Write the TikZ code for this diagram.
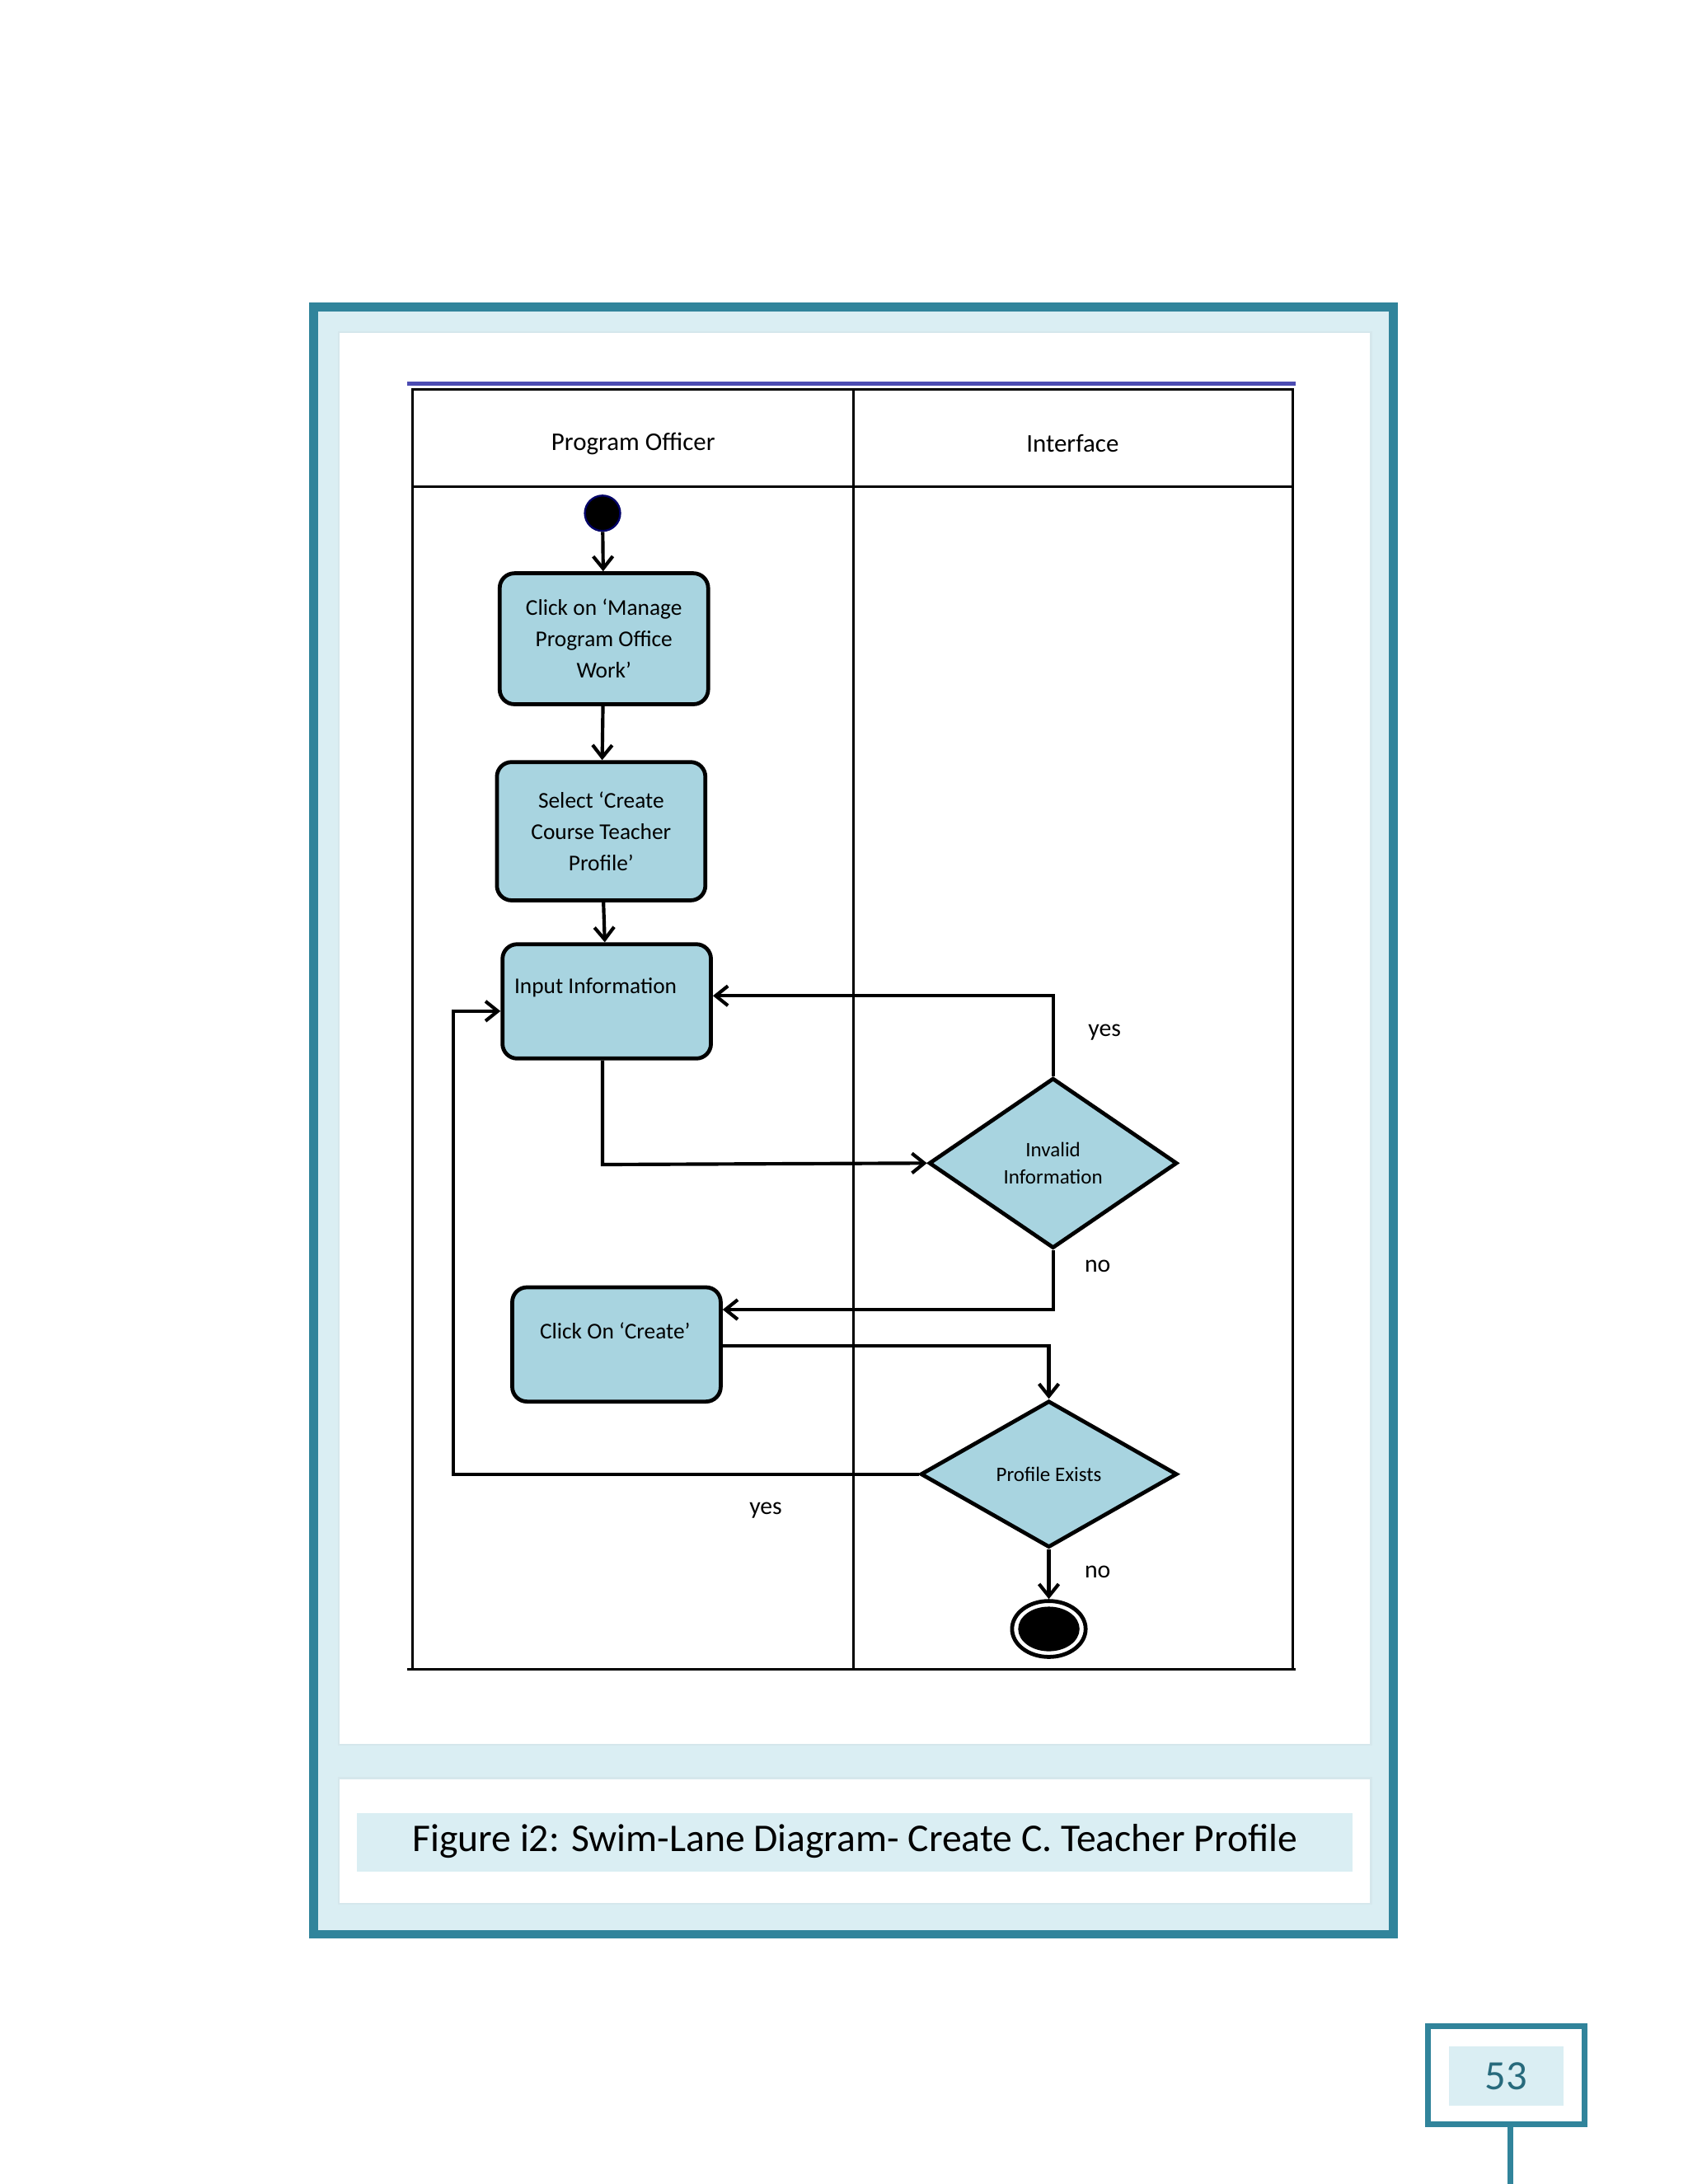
\documentclass[tikz,border=0pt]{standalone}
\usepackage{fontspec}
\setmainfont{Carlito}
\usetikzlibrary{shapes.geometric,arrows.meta}
\definecolor{teal1}{HTML}{31849B}
\definecolor{lb}{HTML}{DAEEF3}
\definecolor{boxf}{HTML}{A8D4E0}
\begin{document}
\begin{tikzpicture}[x=0.01cm,y=-0.01cm,
  act/.style={draw=black,line width=0.8pt,rounded corners=3pt,fill=boxf,align=center,font=\fontsize{4.6}{6.4}\selectfont},
  dec/.style={draw=black,line width=0.8pt,fill=boxf,diamond,align=center,font=\fontsize{4.2}{5.6}\selectfont,inner sep=0pt},
  arr/.style={line width=0.7pt,-{Straight Barb[length=2.5pt,width=4pt]}},
  lab/.style={font=\fontsize{5}{6}\selectfont}]
\useasboundingbox (0,0) rectangle (1210,1566);
\fill[white] (0,0) rectangle (1210,1566);
% frame
\fill[lb] (225,220) rectangle (999,1387);
\draw[teal1,line width=1.8pt] (225,220) rectangle (999,1387);
\fill[white] (243,238) rectangle (983,1251);
\draw[lb!60!teal1!40,line width=0.4pt] (243,238) rectangle (983,1251);
\fill[white] (243,1275) rectangle (983,1365);
\draw[lb!60!teal1!40,line width=0.4pt] (243,1275) rectangle (983,1365);
\fill[lb] (256,1300) rectangle (970,1342);
\node[font=\fontsize{8}{9}\selectfont] (cap) at (613,1320) {Figure i2: Swim-Lane Diagram- Create C. Teacher Profile};
% page number
\draw[teal1,line width=1.2pt] (1024,1453) rectangle (1136,1523);
\fill[lb] (1039,1467) rectangle (1121,1510);
\node[teal1!80!black,font=\fontsize{8.5}{9}\selectfont] (pn) at (1080,1489) {53};
\draw[teal1,line width=1.2pt] (1083,1523) -- (1083,1566);
% swimlanes
\draw[blue!40!gray,line width=0.8pt] (292,275) -- (929,275);
\draw[line width=0.5pt] (296,279) rectangle (927,1197);
\draw[line width=0.5pt] (296,349) -- (927,349);
\draw[line width=0.5pt] (612,279) -- (612,1197);
\draw[line width=0.5pt] (292,1197) -- (929,1197);
\node[font=\fontsize{5.2}{6}\selectfont] (h1) at (454,318) {Program Officer};
\node[font=\fontsize{5.2}{6}\selectfont] (h2) at (769,318) {Interface};
% nodes
\node[circle,fill=black,draw=black!60!blue,minimum size=26\pgflinewidth*0+7.2pt,inner sep=0pt] (st) at (432,368) {};
\node[act,minimum width=150\pgflinewidth*0+42.5pt,minimum height=26.7pt] (b1) at (433,458) {Click on ‘Manage\\Program Office\\Work’};
\node[act,minimum width=42.5pt,minimum height=28.2pt] (b2) at (431,596) {Select ‘Create\\Course Teacher\\Profile’};
\node[act,minimum width=42.5pt,minimum height=23.3pt] (b3) at (435,718) {};
\node[font=\fontsize{4.6}{6}\selectfont] (t3) at (427,708) {Input Information};
\node[act,minimum width=42.5pt,minimum height=23.3pt] (b4) at (442,964) {};
\node[font=\fontsize{4.6}{6}\selectfont] (t4) at (441,954) {Click On ‘Create’};
\node[dec,minimum width=50.6pt,minimum height=34.7pt] (d1) at (755,834) {Invalid\\Information};
\node[dec,minimum width=52.3pt,minimum height=29.9pt] (d2) at (752,1057) {Profile Exists};
\node[ellipse,draw=black,line width=0.8pt,minimum width=15pt,minimum height=11.4pt,inner sep=0pt] (en) at (752,1168) {};
\fill[black] (en.center) ellipse (22 and 16);
% arrows
\draw[arr] (st) -- (b1);
\draw[arr] (b1) -- (b2);
\draw[arr] (b2) -- (b3);
\draw[arr] (b3.south -| 432,0) -- (432,835) -- (d1.west);
\draw[arr] (d1.north) -- (755,714) -- (b3.east |- 0,714);
\draw[arr] (d1.south) -- (755,939) -- (b4.east |- 0,939);
\draw[arr] (b4.east |- 0,965) -- (752,965) -- (d2.north);
\draw[arr] (d2.west) -- (325,1057) -- (325,725) -- (b3.west |- 0,725);
\draw[arr] (d2.south) -- (en.north);
\node[lab] (y1) at (792,740) {yes};
\node[lab] (n1) at (787,908) {no};
\node[lab] (y2) at (549,1083) {yes};
\node[lab] (n2) at (787,1127) {no};
\end{tikzpicture}
\end{document}
